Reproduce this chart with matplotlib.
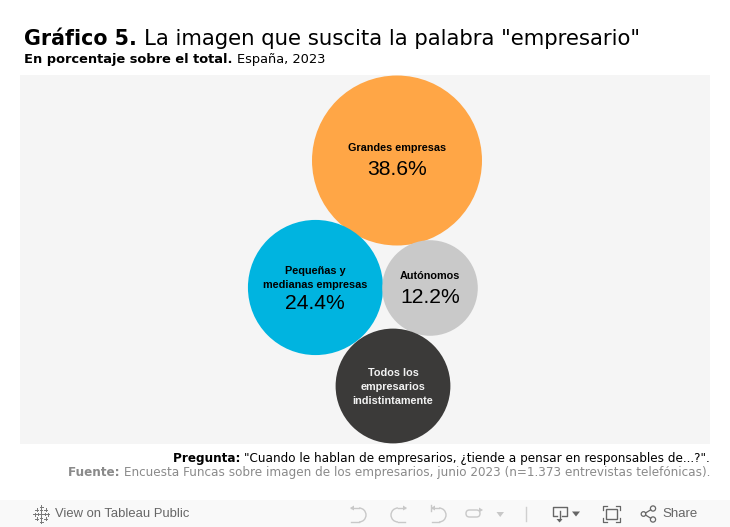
import matplotlib
matplotlib.use('Agg')
import matplotlib.pyplot as plt
from matplotlib.patches import Circle, Rectangle, Arc, Polygon, FancyBboxPatch

#------------ DATA-------------------
categories = ['Grandes empresas', 'Pequeñas y\nmedianas empresas', 'Autónomos',
              'Todos los\nempresarios\nindistintamente']
values = [38.6, 24.4, 12.2, 17.6]   # last one has no label in the picture, estimated from its size
value_labels = ['38.6%', '24.4%', '12.2%', '']

#------------ LAYOUT (pixels)-------------------
colors = ['#ffa646', '#00b4e0', '#c9c9c9', '#3b3a39']
text_colors = ['black', 'black', 'black', '#f2f2f2']
center_x = [397, 315.5, 430, 393]
center_y = [160.5, 287.5, 288, 386]
radius_scale = 13.68

name_y = [148, 277.5, 276, 386.5]
pct_x = [397, 314.5, 430, 393]
pct_y = [169.5, 303.5, 297.5, 0]

fig = plt.figure(figsize=(7.3, 5.27), dpi=100)
ax = fig.add_axes([0, 0, 1, 1])
ax.set_xlim(0, 730)
ax.set_ylim(527, 0)
ax.axis('off')
renderer = fig.canvas.get_renderer()


def put_pair(x, y, bold_txt, reg_txt, size, bold_size=None):
    # bold piece then regular piece, left aligned
    t = ax.text(x, y, bold_txt, fontsize=bold_size or size, fontweight='bold',
                family='DejaVu Sans', va='baseline', ha='left')
    w = t.get_window_extent(renderer).width
    ax.text(x + w, y, reg_txt, fontsize=size, family='DejaVu Sans', va='baseline', ha='left')


def put_pair_right(x, y, bold_txt, reg_txt, size, c1='black', c2='black'):
    # same thing but right aligned on x
    t = ax.text(x, y, reg_txt, fontsize=size, color=c2,
                family='DejaVu Sans', va='baseline', ha='right')
    w = t.get_window_extent(renderer).width
    ax.text(x - w, y, bold_txt, fontsize=size, fontweight='bold', color=c1,
            family='DejaVu Sans', va='baseline', ha='right')


#------------ TITLES-------------------
put_pair(24, 45, 'Gráfico 5. ', 'La imagen que suscita la palabra "empresario"', 15.3, 14.85)
put_pair(24, 63, 'En porcentaje sobre el total. ', 'España, 2023', 9.4)

#------------ BUBBLES-------------------
ax.add_patch(Rectangle((20, 75), 690, 369, fc='#f5f5f5', ec='none', zorder=0))

for i in range(len(values)):
    r = radius_scale * values[i] ** 0.5
    ax.add_patch(Circle((center_x[i], center_y[i]), r, fc=colors[i], ec='none', zorder=2))
    ax.text(center_x[i], name_y[i], categories[i], color=text_colors[i], fontsize=7.85,
            fontweight='bold', family='Liberation Sans', ha='center', va='center',
            linespacing=1.5, zorder=3)
    if value_labels[i]:
        ax.text(pct_x[i], pct_y[i], value_labels[i], color=text_colors[i], fontsize=15.2,
                family='Liberation Sans', ha='center', va='center', zorder=3)

#------------ FOOTNOTES-------------------
put_pair_right(710, 462, 'Pregunta: ',
               '"Cuando le hablan de empresarios, ¿tiende a pensar en responsables de...?".', 8.65)
put_pair_right(710, 476, 'Fuente: ',
               'Encuesta Funcas sobre imagen de los empresarios, junio 2023 (n=1.373 entrevistas telefónicas).',
               8.67, '#8a8a8a', '#8a8a8a')

#------------ TOOLBAR-------------------
ax.add_patch(Rectangle((0, 500), 730, 27, fc='#f9f9f9', ec='none', zorder=0))
ax.text(55, 514, 'View on Tableau Public', fontsize=9.35, color='#666666',
        family='Liberation Sans', ha='left', va='center')
ax.text(662, 514, 'Share', fontsize=9.5, color='#666666',
        family='Liberation Sans', ha='left', va='center')

# tableau logo
logo_x = [41, 41, 41, 34.5, 47.5, 36.5, 45.5, 36.5, 45.5, 41, 41, 37.5, 44.5]
logo_y = [514, 506.5, 521.5, 514, 514, 509.5, 509.5, 518.5, 518.5, 510, 518, 514, 514]
logo_s = [2.5, 1.5, 1.5, 1.5, 1.5, 1.5, 1.5, 1.5, 1.5, 0.8, 0.8, 0.8, 0.8]
for x, y, s in zip(logo_x, logo_y, logo_s):
    ax.plot([x - s, x + s], [y, y], color='#777777', lw=0.7)
    ax.plot([x, x], [y - s, y + s], color='#777777', lw=0.7)

# undo, redo, revert, refresh (disabled, light grey)
g = '#c8c8c8'
ax.add_patch(Arc((359, 515), 14, 14, theta1=-90, theta2=90, color=g, lw=1))
ax.plot([351, 359], [508, 508], color=g, lw=1)
ax.plot([351, 359], [522, 522], color=g, lw=1)
ax.add_patch(Polygon([[350, 508], [354, 505.5], [354, 510.5]], fc=g, ec='none'))
ax.add_patch(Arc((398, 515), 14, 14, theta1=90, theta2=270, color=g, lw=1))
ax.plot([398, 405], [508, 508], color=g, lw=1)
ax.plot([398, 405], [522, 522], color=g, lw=1)
ax.add_patch(Polygon([[407, 508], [403, 505.5], [403, 510.5]], fc=g, ec='none'))
ax.add_patch(Arc((439, 515), 14, 14, theta1=-90, theta2=90, color=g, lw=1))
ax.plot([432, 439], [508, 508], color=g, lw=1)
ax.plot([432, 439], [522, 522], color=g, lw=1)
ax.plot([430.5, 430.5], [505, 511], color=g, lw=1)
ax.add_patch(Polygon([[431, 508], [435, 505.5], [435, 510.5]], fc=g, ec='none'))
ax.add_patch(FancyBboxPatch((466, 510), 14, 7, boxstyle='round,pad=0,rounding_size=3.5',
                            fc='none', ec=g, lw=1))
ax.add_patch(Polygon([[483, 510], [479, 507.5], [479, 512.5]], fc=g, ec='none'))
ax.add_patch(Polygon([[496.5, 512], [504, 512], [500.2, 517]], fc=g, ec='none'))
ax.plot([525.5, 525.5], [507, 521], color='#d0d0d0', lw=1)

# download
d = '#666666'
ax.plot([557, 552.5, 552.5, 567, 567, 562], [516, 516, 507, 507, 516, 516], color=d, lw=1)
ax.plot([559.5, 559.5], [511, 520], color=d, lw=1)
ax.add_patch(Polygon([[556.5, 519], [562.5, 519], [559.5, 522.5]], fc=d, ec='none'))
ax.add_patch(Polygon([[572, 511.5], [580, 511.5], [576, 516.5]], fc=d, ec='none'))

# fullscreen
ax.add_patch(Rectangle((606, 509), 11, 10, fc='none', ec=d, lw=1))
for cx, cy, sx, sy in [(603, 506, 1, 1), (620, 506, -1, 1), (603, 522, 1, -1), (620, 522, -1, -1)]:
    ax.plot([cx + 4 * sx, cx, cx], [cy, cy, cy + 4 * sy], color=d, lw=0.9)

# share
ax.add_patch(Circle((643.5, 514), 2.3, fc='none', ec=d, lw=0.9))
ax.add_patch(Circle((653, 508.5), 2.6, fc='none', ec=d, lw=0.9))
ax.add_patch(Circle((653, 519.5), 2.6, fc='none', ec=d, lw=0.9))
ax.plot([645.5, 650.7], [513, 509.8], color=d, lw=0.9)
ax.plot([645.5, 650.7], [515, 518.2], color=d, lw=0.9)

fig.savefig('out.png', dpi=100)
